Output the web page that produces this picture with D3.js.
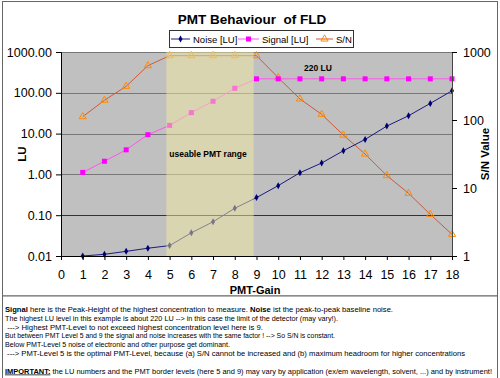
<!DOCTYPE html>
<html><head><meta charset="utf-8">
<script src="https://cdn.jsdelivr.net/npm/d3@7"></script>
<style>
body{margin:0;background:#fff;}
svg{display:block;font-family:"Liberation Sans",Arial,sans-serif;}
</style></head>
<body><svg id="c" width="500" height="378"></svg>
<script>
// ---- data ----
const pmtGain = [1,2,3,4,5,6,7,8,9,10,11,12,13,14,15,16,17,18];
const noiseLU = [0.010,0.011,0.013,0.0155,0.018,0.037,0.069,0.148,0.27,0.53,1.1,1.9,3.8,7.2,15.3,27.4,55,112];
const signalLU = [1.12,2.1,4.0,9.4,15.9,32.7,62,129,220,220,220,220,220,220,220,220,220,220];
const snValue = [112,195,313,630,883,883,883,883,883,419,204,121,60,31.6,15.2,8.35,4.1,2.08];
const xTicks = [0,1,2,3,4,5,6,7,8,9,10,11,12,13,14,15,16,17,18];
const leftTicks = [0.01,0.1,1,10,100,1000];
const rightTicks = [1,10,100,1000];
const useableRange = [4.85,8.87];
const seriesNames = ["Noise [LU]","Signal [LU]","S/N"];
const notes = [
  [["b","Signal"],["n"," here is the Peak-Height of the highest concentration to measure. "],["b","Noise"],["n"," ist the peak-to-peak baseline noise."]],
  [["n","The highest LU level in this example is about 220 LU --> in this case the limit of the detector (may vary!)."]],
  [["n"," ---> Highest PMT-Level to not exceed highest concentration level here is 9."]],
  [["n","But between PMT Level 5 and 9 the signal and noise increases with the same factor ! --> So S/N is constant."]],
  [["n","Below PMT-Level 5 noise of electronic and other purpose get dominant."]],
  [["n"," ---> PMT-Level 5 is the optimal PMT-Level, because (a) S/N cannot be increased and (b) maximum headroom for higher concentrations"]],
  [["u","IMPORTANT:"],["n"," the LU numbers and the PMT border levels (here 5 and 9) may vary by application (ex/em wavelength, solvent, ...) and by instrument!"]]
];
const noteEnds = [393,338,263,335,230,465,492];
const noteY = [312.3,321,329.7,338.4,347,355.7,373.5];

// ---- layout ----
const svg = d3.select("#c");
const L=61,R=452,T=52,B=256;
const x = d3.scaleLinear().domain([0,18]).range([L,R]);
const yL = d3.scaleLog().domain([0.01,1000]).range([B,T]);
const yR = d3.scaleLog().domain([1,1000]).range([B,T]);

// frames
svg.append("rect").attr("x",2.5).attr("y",1.5).attr("width",495).attr("height",294.5)
  .attr("fill","#fff").attr("stroke","#666");
svg.append("rect").attr("x",2.5).attr("y",296).attr("width",495).attr("height",90)
  .attr("fill","#fff").attr("stroke","#666");

// plot bg
svg.append("rect").attr("x",L).attr("y",T).attr("width",R-L).attr("height",B-T).attr("fill","#c0c0c0");
// gridlines
svg.append("g").selectAll("line").data(leftTicks).join("line")
  .attr("x1",L).attr("x2",R).attr("y1",d=>Math.round(yL(d))+0.5).attr("y2",d=>Math.round(yL(d))+0.5)
  .attr("stroke",d=>d===0.1?"#333":"#777").attr("stroke-width",1);

// series
const line = (ys,sc)=>d3.line().x((d,i)=>x(pmtGain[i])).y(d=>sc(d))(ys);
svg.append("path").attr("d",line(snValue,yR)).attr("fill","none").attr("stroke","#cc5a3a").attr("stroke-width",1);
svg.append("path").attr("d",line(signalLU,yL)).attr("fill","none").attr("stroke","#ff55ee").attr("stroke-width",1);
svg.append("path").attr("d",line(noiseLU,yL)).attr("fill","none").attr("stroke","#1a1a80").attr("stroke-width",1);

const tri = d3.symbol().type(d3.symbolTriangle).size(22);
const dia = d3.symbol().type(d3.symbolDiamond).size(14);
svg.append("g").selectAll("path").data(snValue).join("path")
  .attr("transform",(d,i)=>`translate(${x(pmtGain[i])},${yR(d)})`).attr("d",tri())
  .attr("fill","none").attr("stroke","#ff8a00").attr("stroke-width",1);
svg.append("g").selectAll("rect").data(signalLU).join("rect")
  .attr("x",(d,i)=>x(pmtGain[i])-2.5).attr("y",d=>yL(d)-2.5).attr("width",5).attr("height",5).attr("fill","#ff00ff");
svg.append("g").selectAll("path").data(noiseLU).join("path")
  .attr("transform",(d,i)=>`translate(${x(pmtGain[i])},${yL(d)})`).attr("d",dia()).attr("fill","#000070");

// useable range overlay
svg.append("rect").attr("x",x(useableRange[0])).attr("y",T).attr("width",x(useableRange[1])-x(useableRange[0])).attr("height",B-T)
  .attr("fill","#f0eaa0").attr("opacity",0.5);

// annotations
svg.append("text").attr("x",208).attr("y",156.5).attr("text-anchor","middle").attr("font-size",8.5).attr("font-weight","bold").text("useable PMT range");
svg.append("text").attr("x",318).attr("y",71).attr("text-anchor","middle").attr("font-size",8.5).attr("font-weight","bold").text("220 LU");

// axes
const axL = svg.append("g").attr("transform",`translate(${L},0)`)
  .call(d3.axisLeft(yL).tickValues(leftTicks).tickFormat(d3.format(".2f")).tickSize(5).tickPadding(4));
const axR = svg.append("g").attr("transform",`translate(${R},0)`)
  .call(d3.axisRight(yR).tickValues(rightTicks).tickFormat(d3.format("d")).tickSize(5).tickPadding(6));
const axB = svg.append("g").attr("transform",`translate(0,${B})`)
  .call(d3.axisBottom(x).tickValues(xTicks).tickFormat(d3.format("d")).tickSize(4).tickPadding(10));
[axL,axR,axB].forEach(a=>{
  a.selectAll("text").attr("font-size",12.5).attr("font-family","Liberation Sans, Arial, sans-serif").attr("fill","#000");
  a.select(".domain").attr("stroke","#000");
  a.selectAll(".tick line").attr("stroke","#000");
});
axR.select(".domain").attr("stroke","#444");

// titles
svg.append("text").attr("x",252).attr("y",24).attr("text-anchor","middle").attr("font-size",13.5).attr("font-weight","bold")
  .attr("xml:space","preserve").text("PMT Behaviour  of FLD");
svg.append("text").attr("x",255).attr("y",294).attr("text-anchor","middle").attr("font-size",11).attr("font-weight","bold").text("PMT-Gain");
svg.append("text").attr("transform","translate(26,154) rotate(-90)").attr("text-anchor","middle").attr("font-size",11.5).attr("font-weight","bold").text("LU");
svg.append("text").attr("transform","translate(489,154) rotate(-90)").attr("text-anchor","middle").attr("font-size",11.5).attr("font-weight","bold").text("S/N Value");

// legend
const lg = svg.append("g");
lg.append("rect").attr("x",169.5).attr("y",30.5).attr("width",184).attr("height",17).attr("fill","#fff").attr("stroke","#333");
const lx = [[171,190,193],[238,259,262],[316,333,336]];
lx.forEach((p,i)=>{
  const col = ["#1a1a80","#ff55ee","#cc5a3a"][i];
  lg.append("line").attr("x1",p[0]).attr("x2",p[1]).attr("y1",39).attr("y2",39).attr("stroke",col);
  const cx=(p[0]+p[1])/2;
  if(i===0) lg.append("path").attr("transform",`translate(${cx},39)`).attr("d",dia()).attr("fill","#000070");
  if(i===1) lg.append("rect").attr("x",cx-2.5).attr("y",36.5).attr("width",5).attr("height",5).attr("fill","#ff00ff");
  if(i===2) lg.append("path").attr("transform",`translate(${cx},39)`).attr("d",tri()).attr("fill","none").attr("stroke","#ff8a00");
  lg.append("text").attr("x",p[2]).attr("y",42.5).attr("font-size",9.5).text(seriesNames[i]);
});

// notes
const ng = svg.append("g").attr("font-size",7.5);
notes.forEach((segs,i)=>{
  const t = ng.append("text").attr("x",5).attr("y",noteY[i]).attr("xml:space","preserve")
    .attr("textLength",noteEnds[i]-5).attr("lengthAdjust","spacingAndGlyphs");
  segs.forEach(s=>{
    const ts=t.append("tspan").text(s[1]);
    if(s[0]==="b"||s[0]==="u") ts.attr("font-weight","bold");
    if(s[0]==="u") ts.attr("text-decoration","underline");
  });
});
</script></body></html>
